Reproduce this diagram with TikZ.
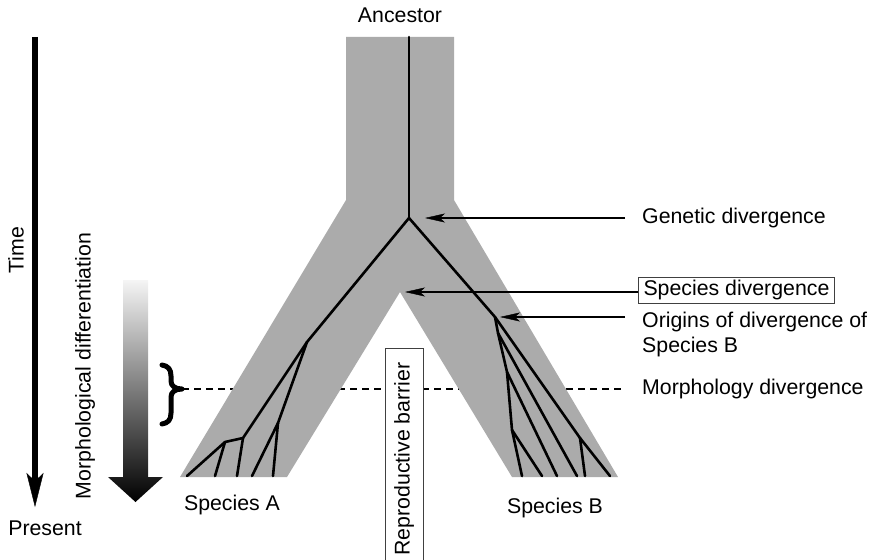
\documentclass[tikz,border=0pt]{standalone}
\usepackage{fontspec}
\setsansfont{Liberation Sans}
\usetikzlibrary{arrows.meta}

\begin{document}
\begin{tikzpicture}[x=1pt, y=-1pt, font=\sffamily\fontsize{21.3}{25}\selectfont,
  band/.style={fill=black!33},
  lineage/.style={line width=2.6pt, line cap=round, line join=round},
  pointer/.style={line width=1.3pt, -{Stealth[length=20pt, width=9pt, inset=5pt, line width=0.4pt]}},
  sidetext/.style={anchor=west, inner sep=2pt},
  framed/.style={draw=black!75, line width=1pt}]
  \useasboundingbox (0,0) rectangle (877,559);

  % Morphology level, drawn first so the band covers it
  \coordinate (bracetip) at (182,389);
  \node[sidetext] (morph) at (640,389) {Morphology divergence};
  \draw[dash pattern=on 7pt off 5pt, line width=1.3pt] (bracetip) -- ([xshift=-15pt]morph.west);

  % Gray band of the two lineages
  \fill[band] (346,37) -- (454,37) -- (454,200) -- (618,477) -- (512,477)
    -- (400,292) -- (287,477) -- (180,477) -- (346,200) -- cycle;

  % Reproductive barrier
  \node[framed, fill=white, rotate=90, minimum width=222pt, minimum height=38pt,
    inner sep=0pt] (barrier) at (404,459) {Reproductive barrier};

  % Branch points
  \coordinate (root) at (409,37);
  \coordinate (split) at (409,218);
  \coordinate (a1) at (307,342);
  \coordinate (a2) at (243,438);
  \coordinate (a3) at (278,423);
  \coordinate (a4) at (225,442);
  \coordinate (b1) at (495,317);
  \coordinate (b2) at (498,333);
  \coordinate (b3) at (507,372);
  \coordinate (b4) at (512,430);
  \coordinate (b5) at (580,438);

  % Lineages
  \draw[lineage] (root) -- (split);
  \draw[lineage] (split) -- (a1) -- (a2) -- (a4);
  \draw[lineage] (a1) -- (a3);
  \foreach \from/\x in {a4/187, a4/215, a2/237, a3/252, a3/273}
    \draw[lineage] (\from) -- (\x,476);
  \draw[lineage] (split) -- (b1) -- (b5);
  \draw[lineage] (b1) -- (b2) -- (b3) -- (b4);
  \foreach \from/\x in {b4/522, b4/542, b3/557, b2/577, b5/585, b5/610}
    \draw[lineage] (\from) -- (\x,476);

  % Labels
  \node (ancestor) at (400,15) {Ancestor};
  \node (spA) at (232,505) {Species A};
  \node (spB) at (555,508) {Species B};
  \node[sidetext] (gen) at (640,218) {Genetic divergence};
  \node[sidetext, framed, inner xsep=5pt, minimum height=26pt] (spdiv) at (638,290) {Species divergence};
  \node[sidetext, align=left] (orig) at (640,334.5) {Origins of divergence of\\Species B};

  % Pointers
  \coordinate (gentip) at (425,218);
  \coordinate (sptip) at (405,292);
  \coordinate (origtip) at (500,317);
  \draw[pointer, shorten <=15pt] (gen.west) -- (gentip);
  \draw[pointer] (spdiv.west |- sptip) -- (sptip);
  \draw[pointer, shorten <=15pt] (orig.west |- origtip) -- (origtip);

  % Time axis
  \coordinate (past) at (35,37);
  \coordinate (now) at (35,507);
  \draw[line width=6.5pt, -{Stealth[length=34pt, width=17pt, inset=8pt, line width=0.4pt]}] (past) -- (now);
  \node[rotate=90] (time) at (16,250) {Time};
  \node (present) at (45,528) {Present};

  % Morphological differentiation
  \shade[top color=black!4, bottom color=black] (123,280) -- (148,280) -- (148,477)
    -- (163,477) -- (135.5,502) -- (108,477) -- (123,477) -- cycle;
  \node[rotate=90] (morphdiff) at (85,366) {Morphological differentiation};
  \draw[line width=5pt, line cap=round, line join=round]
    (162,365) .. controls (168,366) and (171,369) .. (171,376) -- (171,381)
    .. controls (171,386) and (175,389) .. (bracetip)
    .. controls (175,389) and (171,392) .. (171,397) -- (171,413)
    .. controls (171,420) and (168,423) .. (162,424);
\end{tikzpicture}
\end{document}
